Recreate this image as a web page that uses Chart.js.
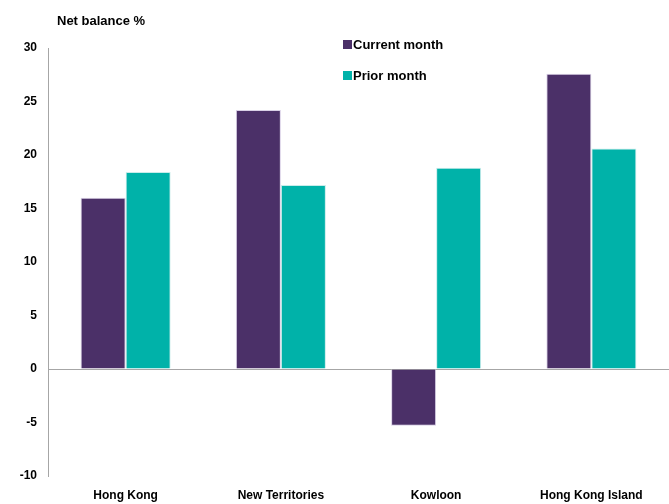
<!DOCTYPE html>
<html>
<head>
<meta charset="utf-8">
<script src="https://cdn.jsdelivr.net/npm/chart.js@4"></script>
<style>
  html, body { margin: 0; padding: 0; background: #fff; }
  #wrap { width: 669px; height: 504px; }
</style>
</head>
<body>
<div id="wrap"><canvas id="balance-chart"></canvas></div>
<script>
const regions = ['Hong Kong', 'New Territories', 'Kowloon', 'Hong Kong Island'];
const currentMonth = [16.0, 24.2, -5.3, 27.6];
const priorMonth = [18.4, 17.2, 18.8, 20.6];
const yTicks = [-10, -5, 0, 5, 10, 15, 20, 25, 30];

const PURPLE = '#4b3068';
const TEAL = '#00b2a9';
const FONT = '"Liberation Sans", Arial, sans-serif';

// title + legend drawn by hand, the built-in legend can't sit inside the plot like this
const extras = {
  id: 'extras',
  afterDraw(chart) {
    const ctx = chart.ctx;
    ctx.save();
    ctx.fillStyle = '#000';
    ctx.font = 'bold 13px ' + FONT;
    ctx.textBaseline = 'middle';
    ctx.textAlign = 'left';
    ctx.fillText('Net balance %', 57, 21);

    const items = [['Current month', PURPLE, 45], ['Prior month', TEAL, 76]];
    items.forEach(([label, color, y]) => {
      ctx.fillStyle = color;
      ctx.fillRect(343, y - 5, 9, 9);
      ctx.fillStyle = '#000';
      ctx.fillText(label, 353, y);
    });
    ctx.restore();
  }
};

const balanceChart = new Chart(document.getElementById('balance-chart'), {
  type: 'bar',
  data: {
    labels: regions,
    datasets: [
      {
        label: 'Current month',
        data: currentMonth,
        backgroundColor: PURPLE,
        borderColor: '#d9d0e6',
        borderWidth: 1,
        borderSkipped: 'start'
      },
      {
        label: 'Prior month',
        data: priorMonth,
        backgroundColor: TEAL,
        borderColor: '#c9ecea',
        borderWidth: 1,
        borderSkipped: 'start'
      }
    ]
  },
  options: {
    responsive: true,
    maintainAspectRatio: false,
    animation: false,
    layout: { padding: { top: 48, right: 0, left: 0, bottom: 0 } },
    datasets: {
      bar: { barPercentage: 1, categoryPercentage: 0.58 }
    },
    plugins: {
      legend: { display: false },
      tooltip: { enabled: false }
    },
    scales: {
      x: {
        afterFit: scale => { scale.height = 28; },
        grid: { display: false, drawTicks: false },
        border: { display: false },
        ticks: {
          color: '#000',
          font: { family: FONT, size: 12, weight: 'bold' },
          padding: 12,
          maxRotation: 0
        }
      },
      y: {
        min: -10,
        max: 30,
        afterBuildTicks: scale => {
          scale.ticks = yTicks.map(v => ({ value: v }));
        },
        afterFit: scale => { scale.width = 48; },
        border: { display: true, color: '#a6a6a6', width: 1 },
        grid: {
          drawTicks: false,
          color: ctx => (ctx.tick && ctx.tick.value === 0 ? '#a6a6a6' : 'rgba(0,0,0,0)'),
          lineWidth: 1
        },
        ticks: {
          color: '#000',
          font: { family: FONT, size: 12, weight: 'bold' },
          padding: 11
        }
      }
    }
  },
  plugins: [extras]
});
</script>
</body>
</html>
